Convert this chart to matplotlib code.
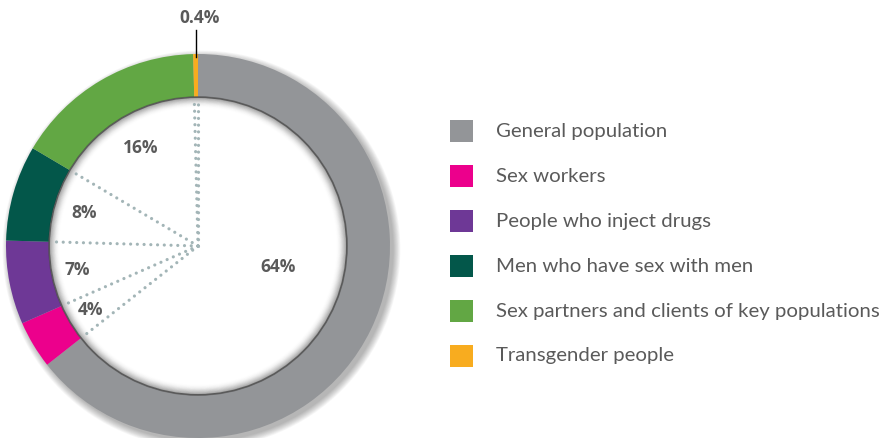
import numpy as np
import matplotlib
matplotlib.use('Agg')
import matplotlib.pyplot as plt
from matplotlib.patches import Circle

plt.rcParams['font.family'] = ['Lato', 'DejaVu Sans']

# data (clockwise from 12 o'clock)
groups = ['General population', 'Sex workers', 'People who inject drugs',
          'Men who have sex with men', 'Sex partners and clients of key populations',
          'Transgender people']
shares = [64, 4, 7, 8, 16, 0.4]
labels = ['64%', '4%', '7%', '8%', '16%', '0.4%']
colors = ['#939598', '#ec008c', '#6e3896', '#03574a', '#62a744', '#f8ac1f']

text_col = '#5a5a5a'
R_OUT = 1.0
RING = 0.225
R_IN = R_OUT - RING
LIM = 1.06

fig = plt.figure(figsize=(8.86, 4.38), dpi=100)

# donut (radius 192 px, centre at 198, 246 px)
half = 192 * LIM
ax = fig.add_axes([(198 - half) / 886, (192 - half) / 438, 2 * half / 886, 2 * half / 438])

# soft outer shadow, offset to lower right
for i in range(10):
    ax.add_patch(Circle((0.018, -0.018), R_OUT + 0.004 * i, color='black',
                        alpha=0.03, lw=0, zorder=0))

wedges, _ = ax.pie(shares, colors=colors, startangle=90, counterclock=False,
                   radius=R_OUT, wedgeprops=dict(width=RING, linewidth=0))
for w in wedges:
    w.set_zorder(2)

# white hole + inner shadow
ax.add_patch(Circle((0, 0), R_IN, color='white', lw=0, zorder=2.5))
for i in range(14):
    ax.add_patch(Circle((0, 0), R_IN - 0.004 * i, fill=False, lw=1.6,
                        ec='black', alpha=0.16 * (1 - i / 14) ** 2, zorder=3))
ax.add_patch(Circle((0, 0), R_IN, fill=False, lw=1.1, ec='#5a5a5a', zorder=4))

# dotted spokes on wedge boundaries
total = sum(shares)
bounds = 90 - 360 * np.cumsum([0] + shares[:-1]) / total
for a in bounds:
    t = np.deg2rad(a)
    ax.plot([0, (R_IN - 0.015) * np.cos(t)], [0, (R_IN - 0.015) * np.sin(t)],
            ls=(0, (0.01, 2.1)), lw=2.3, color='#a3b5b7',
            dash_capstyle='round', zorder=3.5)

# percentage labels
mids = 90 - 360 * (np.cumsum(shares) - np.array(shares) / 2) / total
label_r = [0.43, 0.65, 0.64, 0.62, 0.59]
label_da = [11, 0, 0, 0, 0]
for lab, m, r, da in zip(labels[:5], mids[:5], label_r, label_da):
    t = np.deg2rad(m + da)
    ax.text(r * np.cos(t), r * np.sin(t), lab, ha='center', va='center',
            fontsize=12.5, fontweight='bold', color=text_col, zorder=5,
            family=['Open Sans', 'DejaVu Sans'])

t = np.deg2rad(mids[5])
xo = R_OUT * np.cos(t)
ax.plot([xo, xo], [0.985, 1.125], color='black', lw=1, clip_on=False, zorder=5)
ax.text(xo + 0.02, 1.19, labels[5], ha='center', va='center', fontsize=12.5,
        fontweight='bold', color=text_col, clip_on=False, zorder=5,
        family=['Open Sans', 'DejaVu Sans'])

ax.set_xlim(-LIM, LIM)
ax.set_ylim(-LIM, LIM)
ax.set_aspect('equal')
ax.axis('off')

# legend
lax = fig.add_axes([440 / 886, 0, 446 / 886, 1])
lax.set_xlim(0, 446)
lax.set_ylim(438, 0)
lax.axis('off')
rows = 131 + 45 * np.arange(len(groups))
lax.scatter(np.full(len(groups), 21.5), rows, marker='s', s=274, c=colors,
            linewidths=0)
for y, g in zip(rows, groups):
    lax.text(56, y, g, ha='left', va='center', fontsize=14.7, color=text_col)

fig.savefig('out.png', dpi=100, facecolor='white')
